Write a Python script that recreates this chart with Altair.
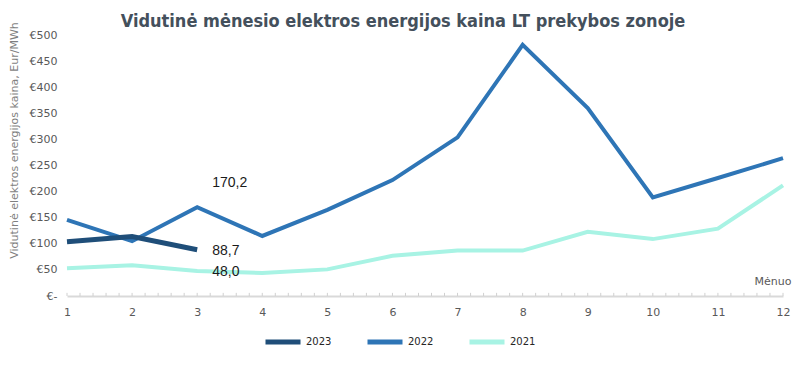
import altair as alt
import pandas as pd

months = list(range(1, 13))
y2023 = [104, 114, 88.7]
y2022 = [146, 105, 170.2, 115, 165, 222, 304, 481, 360, 189, 226, 264]
y2021 = [53, 59, 48.0, 44, 51, 77, 87, 87, 123, 109, 129, 212]
years = ["2023", "2022", "2021"]
colors = ["#1F4E79", "#2E75B6", "#A8F3E4"]
minor_ticks = [round(1 + 0.2 * i, 1) for i in range(56)]
y_ticks = list(range(0, 501, 50))

rows = []
for yr, vals in zip(years, [y2023, y2022, y2021]):
    for m, v in zip(months, vals):
        rows.append({"month": m, "value": v, "year": yr,
                     "label": f"{v:.1f}".replace(".", ",") if m == 3 else ""})
df = pd.DataFrame(rows)
ticks_df = pd.DataFrame({"t": minor_ticks})

base = alt.Chart(df)

x_scale = alt.Scale(domain=[1, 12], nice=False, zero=False)
y_scale = alt.Scale(domain=[0, 500], nice=False)

x_axis = alt.Axis(values=months, format="d", labelOverlap=False, grid=False,
                  ticks=False, domainColor="#d9d9d9", domainWidth=2, labelPadding=10,
                  labelFlush=False,
                  labelFont="DejaVu Sans", labelFontSize=11, labelColor="#595959",
                  title="Mėnuo", titleX=724, titleY=-15, titleAlign="right",
                  titleBaseline="middle", titleFont="DejaVu Sans", titleFontSize=11,
                  titleFontWeight="normal", titleColor="#595959")
y_axis = alt.Axis(values=y_ticks, labelExpr="datum.value === 0 ? '€-  ' : '€' + datum.value",
                  labelOverlap=False, grid=False, domain=False, ticks=False, labelPadding=10,
                  labelFont="DejaVu Sans", labelFontSize=11, labelColor="#595959",
                  title="Vidutinė elektros energijos kaina, Eur/MWh",
                  titleX=-53, titleY=105, titleAngle=-90, titleAlign="center",
                  titleBaseline="middle", titleFont="DejaVu Sans", titleFontSize=11,
                  titleFontWeight="normal", titleColor="#7f7f7f")

x_enc = alt.X("month:Q", scale=x_scale, axis=x_axis)
y_enc = alt.Y("value:Q", scale=y_scale, axis=y_axis)
color_enc = alt.Color("year:N", scale=alt.Scale(domain=years, range=colors),
                      legend=alt.Legend(title=None, orient="none", direction="horizontal",
                                        legendX=196, legendY=287, symbolType="stroke",
                                        symbolSize=1225, symbolStrokeWidth=5,
                                        labelFont="DejaVu Sans", labelFontSize=10,
                                        labelColor="#262626", labelOffset=3, columnPadding=25,
                                        padding=0))

minor = alt.Chart(ticks_df).mark_rule(color="#d0d0d0", strokeWidth=1).encode(
    x=alt.X("t:Q", scale=x_scale, axis=x_axis),
    y=alt.Y(datum=0, scale=y_scale, axis=y_axis), y2=alt.datum(6))

layers = []
for yr, sw in [("2021", 4), ("2022", 4), ("2023", 5)]:
    layers.append(base.transform_filter(alt.datum.year == yr)
                  .mark_line(strokeWidth=sw, strokeCap="butt", strokeJoin="miter")
                  .encode(x=x_enc, y=y_enc, color=color_enc))

lab_base = base.transform_filter(alt.datum.label != "")
lab1 = lab_base.transform_filter(alt.datum.year == "2022").mark_text(
    align="left", baseline="middle", dx=15, dy=-24, fontSize=14,
    font="Liberation Sans", color="#1a1a1a").encode(x=x_enc, y=y_enc, text="label:N")
lab2 = lab_base.transform_filter(alt.datum.year != "2022").mark_text(
    align="left", baseline="middle", dx=15, dy=1, fontSize=14,
    font="Liberation Sans", color="#1a1a1a").encode(x=x_enc, y=y_enc, text="label:N")

chart = alt.layer(minor, *layers, lab1, lab2).properties(
    width=716, height=261,
    padding={"left": 59, "top": 27, "right": 9, "bottom": 74},
    autosize=alt.AutoSizeParams(type="none"),
    title=alt.TitleParams("Vidutinė mėnesio elektros energijos kaina LT prekybos zonoje",
                          font="DejaVu Sans Condensed", fontSize=18, fontWeight="bold",
                          color="#44505c", anchor="middle", dx=-22, dy=21, offset=12),
).configure(background="white").configure_view(stroke=None)

chart.save("out.html", embed_options={"renderer": "svg", "actions": False})
